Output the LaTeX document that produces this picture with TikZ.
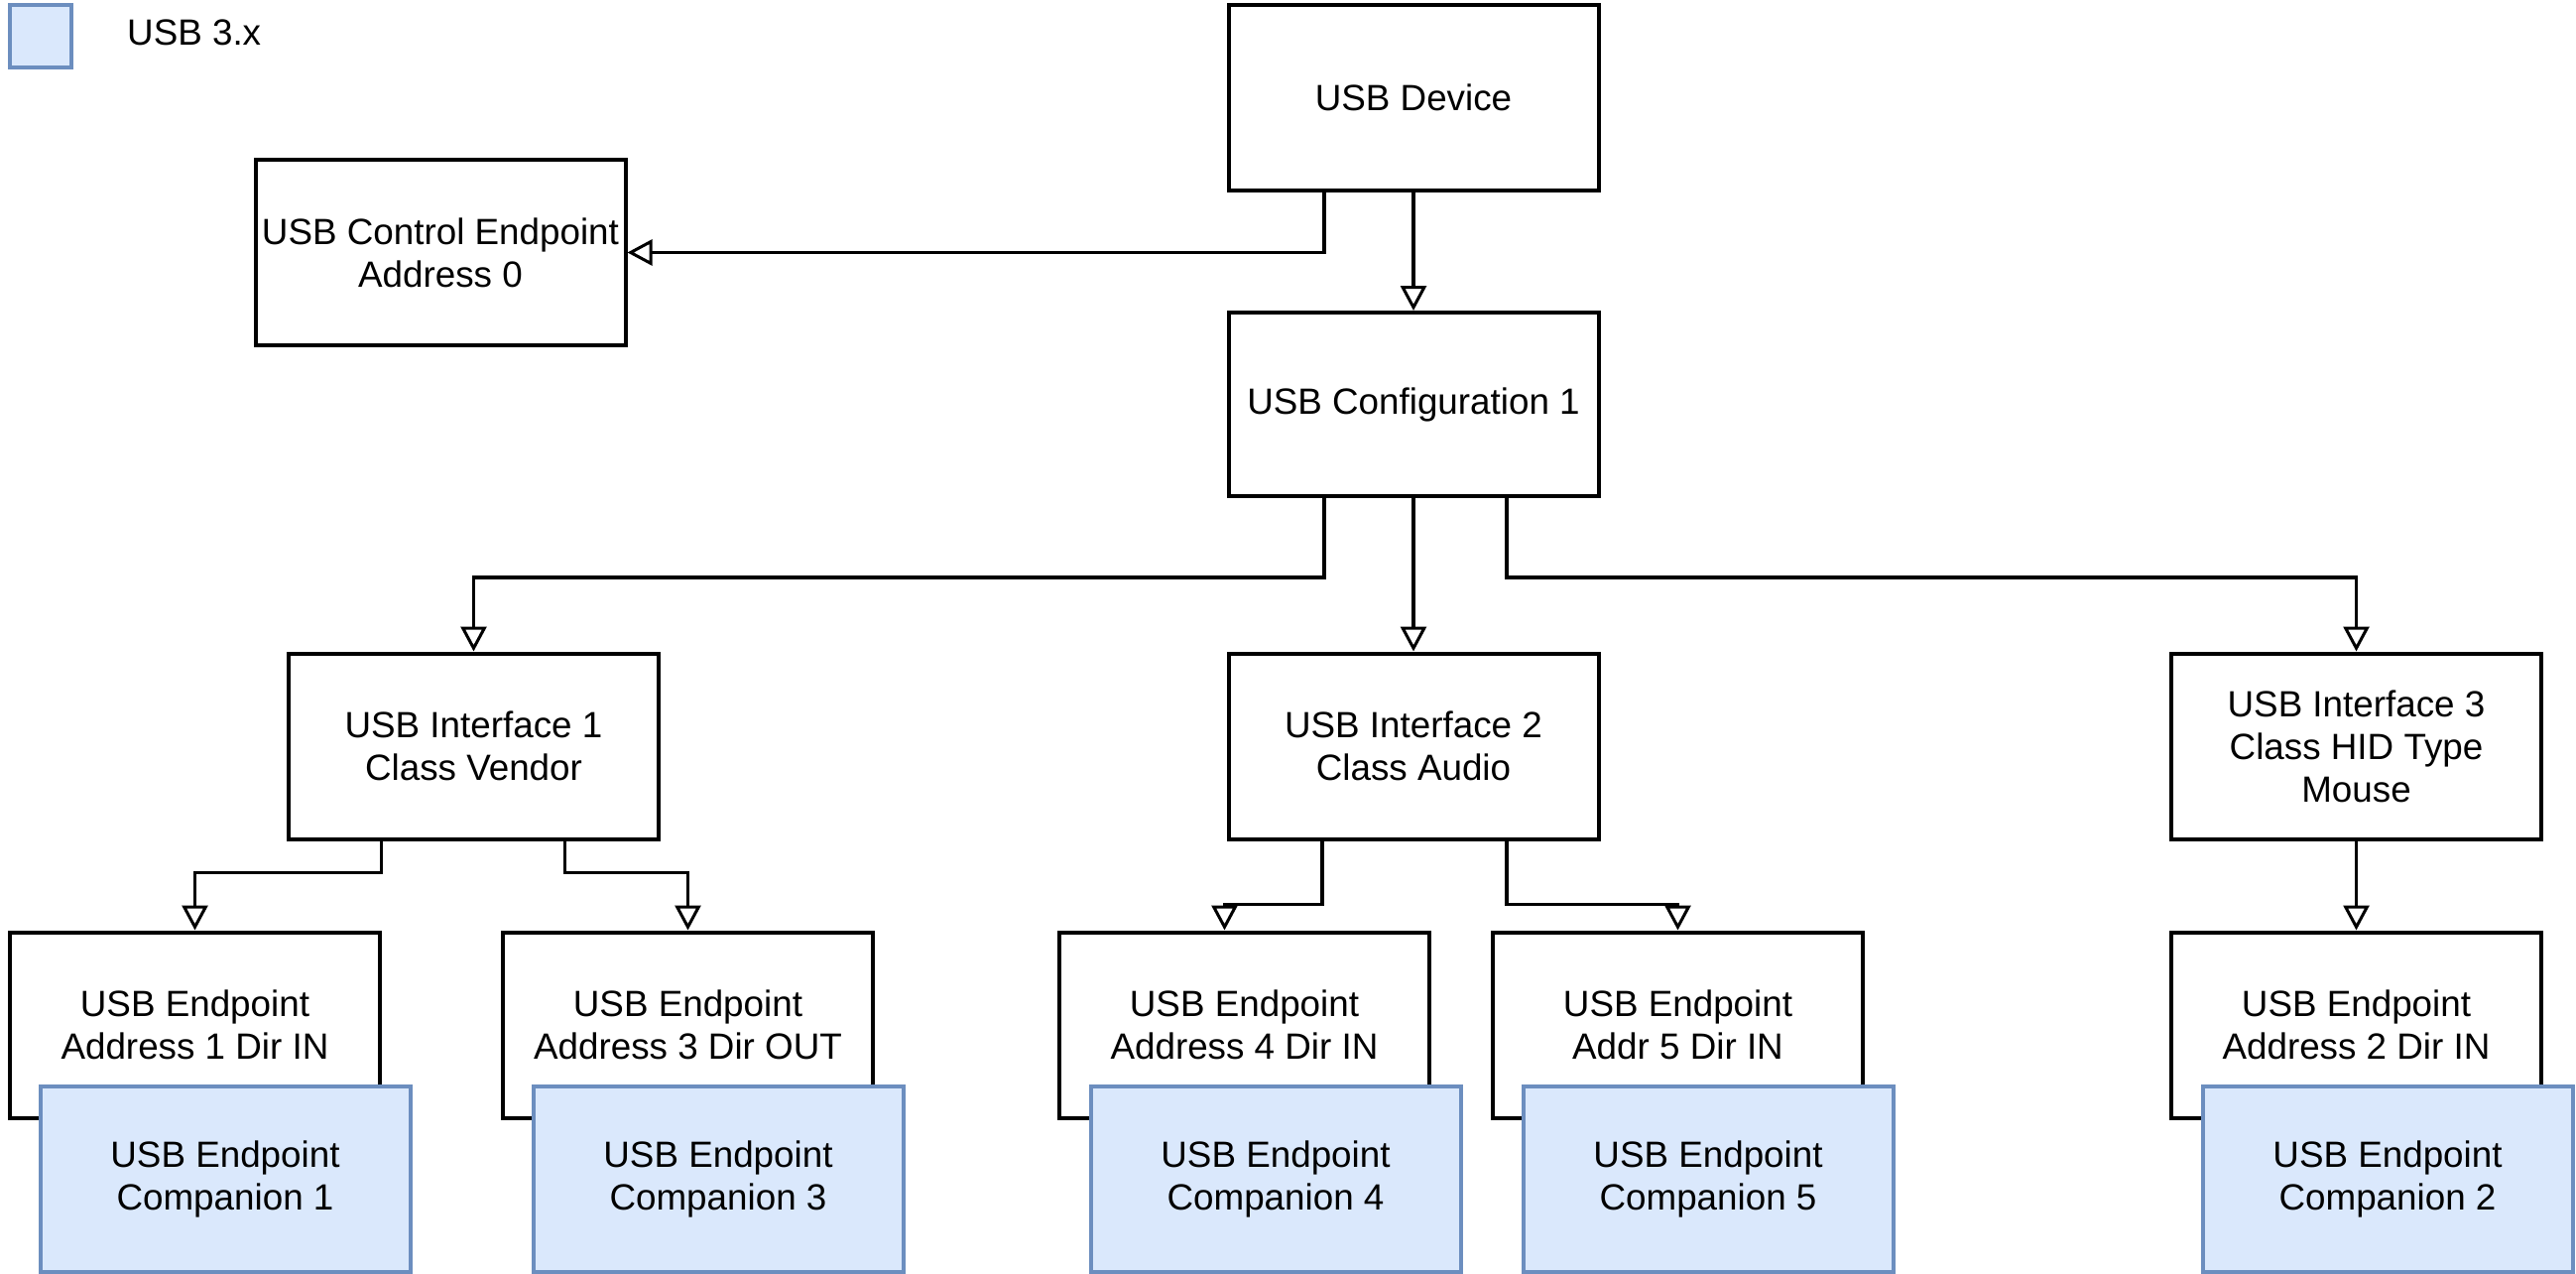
\documentclass[tikz,border=0pt]{standalone}
\usepackage{fontspec}
\setmainfont{Liberation Sans}
\usetikzlibrary{arrows.meta}
\definecolor{compfill}{HTML}{DAE8FC}
\definecolor{compdraw}{HTML}{6C8EBF}
\tikzset{
  lbl/.style={font=\fontsize{36.8}{43}\selectfont, align=center, inner sep=0pt},
  box/.style={lbl, draw=black, fill=white, line width=4pt,
    minimum width=373pt, minimum height=187pt},
  compbox/.style={box, draw=compdraw, fill=compfill, line width=4pt},
  arr/.style={line width=3.5pt, line join=miter,
    -{Triangle[open, length=25pt, width=26pt, line width=3pt]}}
}
\begin{document}
\begin{tikzpicture}[x=1pt, y=-1pt]
\useasboundingbox (0,0) rectangle (2597,1284);

% legend
\node[draw=compdraw, fill=compfill, line width=4pt, minimum width=62pt,
  minimum height=63pt, inner sep=0pt] (legendbox) at (41,36.5) {};
\node[lbl, anchor=west] (legendtext) at (128,33) {USB 3.x};

% device, control endpoint and configuration
\node[box] (dev) at (1425,98.5) {USB Device};
\node[box] (ctrl) at (444,254.5) {USB Control Endpoint\\Address 0};
\node[box, minimum height=185pt] (cfg) at (1425,407.5) {USB Configuration 1};

% interfaces
\node[box] (if1) at (477.5,752) {USB Interface 1\\Class Vendor};
\node[box] (if2) at (1425,752) {USB Interface 2\\Class Audio};
\node[box] (if3) at (2375.5,752) {USB Interface 3\\Class HID Type\\Mouse};

% endpoints
\node[box] (ep1) at (196.5,1033) {USB Endpoint\\Address 1 Dir IN};
\node[box] (ep3) at (693.5,1033) {USB Endpoint\\Address 3 Dir OUT};
\node[box] (ep4) at (1254.5,1033) {USB Endpoint\\Address 4 Dir IN};
\node[box] (ep5) at (1691.5,1033) {USB Endpoint\\Addr 5 Dir IN};
\node[box] (ep2) at (2375.5,1033) {USB Endpoint\\Address 2 Dir IN};

% USB 3.x endpoint companions
\node[compbox] (cp1) at (227,1188.5) {USB Endpoint\\Companion 1};
\node[compbox] (cp3) at (724,1188.5) {USB Endpoint\\Companion 3};
\node[compbox] (cp4) at (1286,1188.5) {USB Endpoint\\Companion 4};
\node[compbox] (cp5) at (1722,1188.5) {USB Endpoint\\Companion 5};
\node[compbox] (cp2) at (2407,1188.5) {USB Endpoint\\Companion 2};

% connectors
\draw[arr] ([xshift=-90pt]dev.south) |- (ctrl.east);
\draw[arr] (dev) -- (cfg);
\draw[arr] ([xshift=-90pt]cfg.south) -- ++(0,80) -| (if1.north);
\draw[arr] (cfg) -- (if2);
\draw[arr] ([xshift=94pt]cfg.south) -- ++(0,80) -| (if3.north);
\draw[arr] ([xshift=-93pt]if1.south) -- ++(0,32) -| (ep1.north);
\draw[arr] ([xshift=92pt]if1.south) -- ++(0,32) -| (ep3.north);
\draw[arr] ([xshift=-92pt]if2.south) -- ++(0,64) -| ([xshift=-20pt]ep4.north);
\draw[arr] ([xshift=94pt]if2.south) -- ++(0,64) -| (ep5.north);
\draw[arr] (if3) -- (ep2);
\end{tikzpicture}
\end{document}
